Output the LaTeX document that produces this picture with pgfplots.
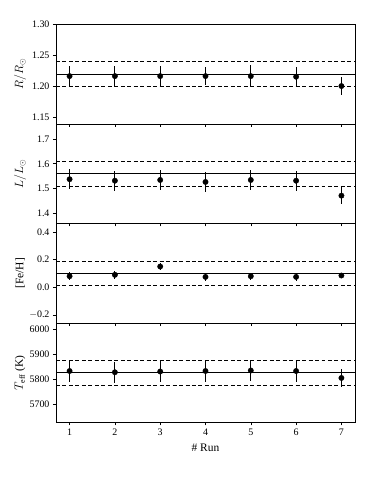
\documentclass[border=0pt]{standalone}
\usepackage{fontspec}
\setmainfont{Liberation Serif}
\usepackage{pgfplots}
\pgfplotsset{compat=1.18}

\pgfplotsset{
  panel/.style={
    scale only axis,
    width=299bp, height=99.5bp,
    xmin=0.7, xmax=7.3,
    xtick={1,2,3,4,5,6,7},
    tick pos=left,
    tick align=outside,
    major tick length=3bp,
    axis line style={line width=0.9pt},
    every tick/.style={black, line width=0.6pt},
    tick label style={font=\fontsize{10}{12}\selectfont},
    label style={font=\fontsize{11.5}{13}\selectfont},
    ylabel style={at={(axis description cs:-0.12,0.5)}, anchor=center},
  },
  hline/.style={black, line width=0.9pt, no marks, forget plot},
  dline/.style={black, line width=0.9pt, dashed, dash pattern=on 4pt off 2.5pt, no marks, forget plot},
  pts/.style={black, only marks, mark=*, mark size=2.7pt,
    error bars/.cd, y dir=both, y explicit, error mark=none,
    error bar style={line width=1.1pt}},
}

\begin{document}
\begin{tikzpicture}
\useasboundingbox (0,0) rectangle (374bp,498bp);

% R / Rsun
\begin{axis}[panel, at={(56bp,473.5bp)}, anchor=north west,
  ymin=1.14, ymax=1.30,
  ytick={1.15,1.20,1.25,1.30}, yticklabels={1.15,1.20,1.25,1.30},
  xticklabels={},
  ylabel={$R/R_\odot$}]
\addplot[dline] coordinates {(0.7,1.24) (7.3,1.24)};
\addplot[hline] coordinates {(0.7,1.22) (7.3,1.22)};
\addplot[dline] coordinates {(0.7,1.20) (7.3,1.20)};
\addplot[pts] table[x=x, y=y, y error=e] {
x y e
1 1.217 0.017
2 1.217 0.016
3 1.217 0.016
4 1.217 0.015
5 1.217 0.018
6 1.216 0.016
7 1.201 0.015
};
\end{axis}

% L / Lsun
\begin{axis}[panel, at={(56bp,374bp)}, anchor=north west,
  ymin=1.36, ymax=1.76,
  ytick={1.4,1.5,1.6,1.7}, yticklabels={1.4,1.5,1.6,1.7},
  xticklabels={},
  ylabel={$L/L_\odot$}]
\addplot[dline] coordinates {(0.7,1.61) (7.3,1.61)};
\addplot[hline] coordinates {(0.7,1.56) (7.3,1.56)};
\addplot[dline] coordinates {(0.7,1.51) (7.3,1.51)};
\addplot[pts] table[x=x, y=y, y error=e] {
x y e
1 1.538 0.041
2 1.532 0.041
3 1.535 0.041
4 1.527 0.040
5 1.535 0.042
6 1.532 0.041
7 1.472 0.034
};
\end{axis}

% [Fe/H]
\begin{axis}[panel, at={(56bp,274.3bp)}, anchor=north west,
  ymin=-0.26, ymax=0.46,
  ytick={-0.2,0.0,0.2,0.4}, yticklabels={$-$0.2,0.0,0.2,0.4},
  xticklabels={},
  ylabel={[Fe/H]}]
\addplot[dline] coordinates {(0.7,0.19) (7.3,0.19)};
\addplot[hline] coordinates {(0.7,0.10) (7.3,0.10)};
\addplot[dline] coordinates {(0.7,0.01) (7.3,0.01)};
\addplot[pts] table[x=x, y=y, y error=e] {
x y e
1 0.080 0.030
2 0.090 0.030
3 0.150 0.027
4 0.075 0.028
5 0.080 0.025
6 0.075 0.028
7 0.085 0.010
};
\end{axis}

% Teff
\begin{axis}[panel, at={(56bp,175bp)}, anchor=north west,
  ymin=5625, ymax=6025,
  ytick={5700,5800,5900,6000}, yticklabels={5700,5800,5900,6000},
  xticklabels={1,2,3,4,5,6,7},
  xlabel={\# Run},
  xlabel style={yshift=-1bp},
  ylabel={$T_{\mathrm{eff}}$ (K)}]
\addplot[dline] coordinates {(0.7,5875) (7.3,5875)};
\addplot[hline] coordinates {(0.7,5825) (7.3,5825)};
\addplot[dline] coordinates {(0.7,5775) (7.3,5775)};
\addplot[pts] table[x=x, y=y, y error=e] {
x y e
1 5832 44
2 5827 42
3 5830 42
4 5832 46
5 5834 44
6 5832 44
7 5804 38
};
\end{axis}
\end{tikzpicture}
\end{document}
